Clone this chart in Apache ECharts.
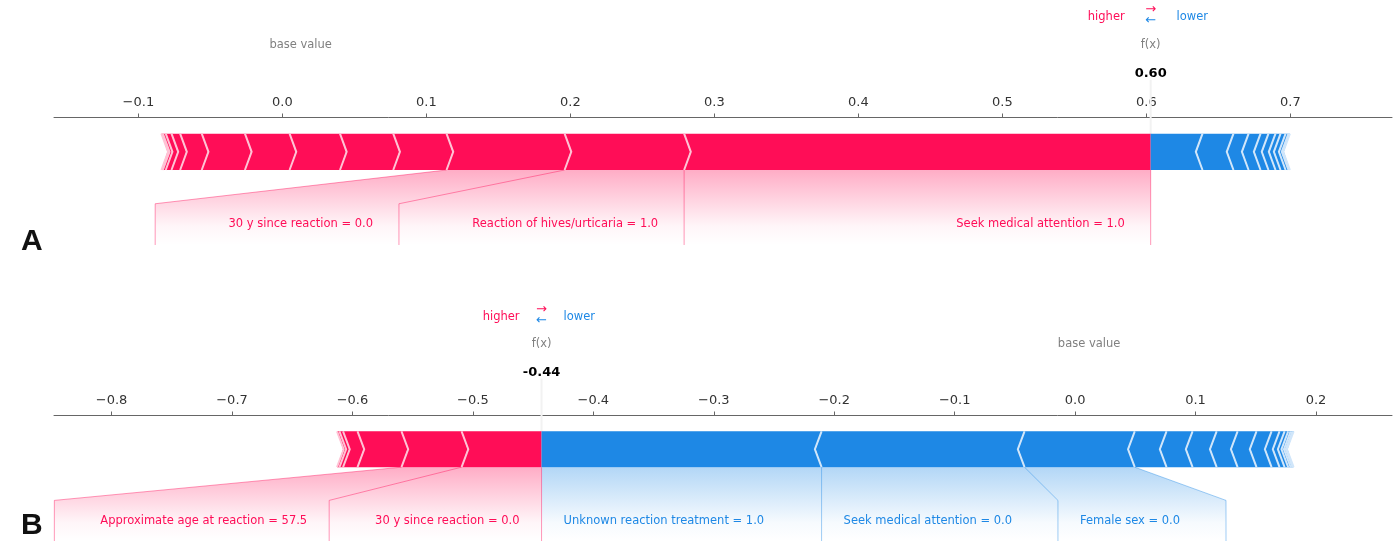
<!DOCTYPE html>
<html>
<head>
<meta charset="utf-8">
<title>force plots</title>
<script src="https://cdn.jsdelivr.net/npm/echarts@6/dist/echarts.min.js"></script>
<style>
  html, body { margin: 0; padding: 0; background: #fff; }
  #main { width: 1400px; height: 541px; }
</style>
</head>
<body>
<div id="main"></div>
<script>
// panel A
const fxA = 0.603
const posEffectsA = [0.324, 0.083, 0.082, 0.037, 0.037, 0.035, 0.031, 0.030, 0.015, 0.006, 0.004, 0.002, 0.001]
const negEffectsA = [0.036, 0.0215, 0.0105, 0.0083, 0.0055, 0.0049, 0.0035, 0.0035, 0.002, 0.001]
const posLabelsA = ['Seek medical attention = 1.0', 'Reaction of hives/urticaria = 1.0', '30 y since reaction = 0.0']
const negLabelsA = []
const ticksA = [-0.1, 0, 0.1, 0.2, 0.3, 0.4, 0.5, 0.6, 0.7]
const rangeA = [-0.1586, 0.7706]

// panel B
const fxB = -0.443
const posEffectsB = [0.0664, 0.0499, 0.0365, 0.012, 0.003, 0.002]
const negEffectsB = [0.2325, 0.1685, 0.0915, 0.0264, 0.0216, 0.020, 0.0174, 0.0157, 0.0125, 0.0066, 0.0042, 0.003, 0.002, 0.0015, 0.001]
const posLabelsB = ['30 y since reaction = 0.0', 'Approximate age at reaction = 57.5']
const negLabelsB = ['Unknown reaction treatment = 1.0', 'Seek medical attention = 0.0', 'Female sex = 0.0']
const ticksB = [-0.8, -0.7, -0.6, -0.5, -0.4, -0.3, -0.2, -0.1, 0, 0.1, 0.2]
const rangeB = [-0.8478, 0.2631]

const RED = '#FF0D57'
const BLUE = '#1E88E5'
const RED_SEP = '#FFC3D5'
const BLUE_SEP = '#D1E6FA'
const FONT = '"DejaVu Sans", sans-serif'

// vertical layout in plot units (bar is 0..BAR_H)
const BAR_H = 0.097
const SLANT_Y = -0.09
const LINE_END = -0.2
const LABEL_Y = -0.145
const HL_Y = 0.408
const NAME_Y = 0.333
const VALUE_Y = 0.256
const OFFSET_FRAC = 0.023

const measureCtx = document.createElement('canvas').getContext('2d')
function textWidth(s, font) {
  measureCtx.font = font
  return measureCtx.measureText(s).width
}
const sum = arr => arr.reduce((a, b) => a + b, 0)

function segments(fx, pos, neg) {
  const out = []
  let cur = fx
  pos.forEach((e, i) => { out.push([cur - e, cur, 1, i === 0 ? 1 : 0]); cur -= e })
  cur = fx
  neg.forEach((e, i) => { out.push([cur, cur + e, -1, i === 0 ? 1 : 0]); cur += e })
  return out
}

function barRenderer(range) {
  const indent = (range[1] - range[0]) / 200
  return function (params, api) {
    const l = api.value(0)
    const r = api.value(1)
    const kind = api.value(2)
    const first = api.value(3)
    const ind = kind * indent
    const m = BAR_H / 2
    const p = (x, y) => api.coord([x, y])
    let pts
    if (first) {
      pts = kind > 0
        ? [p(l, 0), p(r, 0), p(r, BAR_H), p(l, BAR_H), p(l + ind, m)]
        : [p(r, 0), p(l, 0), p(l, BAR_H), p(r, BAR_H), p(r + ind, m)]
    } else {
      pts = [p(l, 0), p(r, 0), p(r + ind * 0.9, m), p(r, BAR_H), p(l, BAR_H), p(l + ind * 0.9, m)]
    }
    const s = kind > 0 ? l : r
    return {
      type: 'group',
      children: [
        { type: 'polygon', z2: 1, shape: { points: pts }, style: { fill: kind > 0 ? RED : BLUE } },
        {
          type: 'polyline', z2: 5,
          shape: { points: [p(s, 0), p(s + ind, m), p(s, BAR_H)] },
          style: { stroke: kind > 0 ? RED_SEP : BLUE_SEP, lineWidth: 2, fill: null }
        }
      ]
    }
  }
}

function txt(pt, text, color, font, align) {
  return {
    type: 'text', x: pt[0], y: pt[1], z2: 8,
    style: {
      text: text, fill: color, font: font,
      align: align, textAlign: align,
      verticalAlign: 'middle', textVerticalAlign: 'middle'
    }
  }
}

function sideLabels(ch, p, ppu, fx, effects, labels, sign, off, pad) {
  if (!labels.length) return
  const color = sign > 0 ? RED : BLUE
  const rgb = sign > 0 ? '255,13,87' : '30,136,229'
  const lineStyle = { stroke: color, opacity: 0.42, lineWidth: 1, fill: null }
  const labelFont = '11.5px ' + FONT
  let start = fx
  let cur = fx
  let boxEnd = fx
  let preVal = fx
  if (sign > 0) {
    ch.push({ type: 'polyline', z2: 3, shape: { points: [p(fx, 0), p(fx, LINE_END)] }, style: lineStyle })
  }
  labels.forEach((label, i) => {
    const val = cur - sign * effects[i]
    const tx = start - sign * off
    const tw = textWidth(label, labelFont) / ppu
    ch.push(txt(p(tx, LABEL_Y), label, color, labelFont, sign > 0 ? 'right' : 'left'))
    const boxEnd0 = tx - sign * (tw + pad)
    if (sign * boxEnd0 > sign * val) {
      ch.push({ type: 'polyline', z2: 3, shape: { points: [p(val, 0), p(val, LINE_END)] }, style: lineStyle })
      start = val
      boxEnd = val
    } else {
      boxEnd = boxEnd0 - sign * off
      ch.push({
        type: 'polyline', z2: 3,
        shape: { points: [p(val, 0), p(boxEnd, SLANT_Y), p(boxEnd, LINE_END)] },
        style: lineStyle
      })
      start = boxEnd
    }
    preVal = val
    cur = val
  })
  ch.push({
    type: 'polygon', z2: 0,
    shape: { points: [p(fx, 0), p(preVal, 0), p(boxEnd, SLANT_Y), p(boxEnd, LINE_END), p(fx, LINE_END)] },
    style: {
      fill: new echarts.graphic.LinearGradient(0, 0, 0, 1, [
        { offset: 0, color: 'rgba(' + rgb + ',0.34)' },
        { offset: 0.75, color: 'rgba(' + rgb + ',0.04)' },
        { offset: 1, color: 'rgba(' + rgb + ',0)' }
      ])
    }
  })
}

function annotRenderer(fx, pos, neg, posLabels, negLabels, padFrac) {
  return function (params, api) {
    const ch = []
    const p = (x, y) => api.coord([x, y])
    const ppu = p(1, 0)[0] - p(0, 0)[0]
    const total = sum(pos) + sum(neg)
    const off = OFFSET_FRAC * total
    const pad = padFrac * total
    const base = fx - sum(pos) + sum(neg)

    sideLabels(ch, p, ppu, fx, pos, posLabels, 1, off, pad)
    sideLabels(ch, p, ppu, fx, neg, negLabels, -1, off, pad)

    // output marker line
    ch.push({ type: 'polyline', z2: 6, shape: { points: [p(fx, 0), p(fx, 0.24)] }, style: { stroke: '#F2F2F2', lineWidth: 2, fill: null } })

    const small = '11.5px ' + FONT
    ch.push(txt(p(fx - off, HL_Y), 'higher', RED, small, 'right'))
    ch.push(txt(p(fx + off, HL_Y), 'lower', BLUE, small, 'left'))
    ch.push(txt(p(fx, HL_Y + 0.02), '\u2192', RED, '13px ' + FONT, 'center'))
    ch.push(txt(p(fx, HL_Y - 0.01), '\u2190', BLUE, '13px ' + FONT, 'center'))
    ch.push(txt(p(fx, NAME_Y), 'f(x)', '#808080', small, 'center'))
    ch.push(txt(p(fx, VALUE_Y), fx.toFixed(2), '#000', 'bold 13px ' + FONT, 'center'))
    ch.push(txt(p(base, NAME_Y), 'base value', '#808080', small, 'center'))
    return { type: 'group', children: ch }
  }
}

const tickFmt = v => (v < -1e-9 ? '\u2212' + Math.abs(v).toFixed(1) : Math.abs(v).toFixed(1))

function xAxisFor(gridIndex, range, ticks) {
  return {
    type: 'value',
    gridIndex: gridIndex,
    position: 'top',
    min: range[0],
    max: range[1],
    axisLine: { show: true, onZero: false, lineStyle: { color: '#666', width: 1 } },
    axisTick: { show: true, length: 4, customValues: ticks, lineStyle: { color: '#666' } },
    axisLabel: {
      customValues: ticks,
      formatter: tickFmt,
      margin: 8,
      color: '#333',
      fontSize: 13,
      fontFamily: FONT
    },
    splitLine: { show: false }
  }
}

const chart = echarts.init(document.getElementById('main'))
chart.setOption({
  animation: false,
  backgroundColor: '#fff',
  grid: [
    { left: 54, right: 8, top: 117.5, height: 127.5 },
    { left: 54, right: 8, top: 415.5, height: 127.5 }
  ],
  xAxis: [xAxisFor(0, rangeA, ticksA), xAxisFor(1, rangeB, ticksB)],
  yAxis: [
    { type: 'value', gridIndex: 0, min: -0.2, max: 0.14, show: false },
    { type: 'value', gridIndex: 1, min: -0.2, max: 0.14, show: false }
  ],
  graphic: [
    { type: 'text', left: 21, top: 227, style: { text: 'A', font: 'bold 30px "Liberation Sans", sans-serif', fill: '#111' } },
    { type: 'text', left: 21, top: 511, style: { text: 'B', font: 'bold 30px "Liberation Sans", sans-serif', fill: '#111' } }
  ],
  series: [
    {
      type: 'custom', name: 'annotA', xAxisIndex: 0, yAxisIndex: 0, z: 1,
      renderItem: annotRenderer(fxA, posEffectsA, negEffectsA, posLabelsA, negLabelsA, 0.042),
      data: [[fxA]], encode: { x: 0 }, silent: true
    },
    {
      type: 'custom', name: 'barsA', xAxisIndex: 0, yAxisIndex: 0, z: 2,
      renderItem: barRenderer(rangeA),
      data: segments(fxA, posEffectsA, negEffectsA), encode: { x: [0, 1] }, silent: true
    },
    {
      type: 'custom', name: 'annotB', xAxisIndex: 1, yAxisIndex: 1, z: 1,
      renderItem: annotRenderer(fxB, posEffectsB, negEffectsB, posLabelsB, negLabelsB, 0.025),
      data: [[fxB]], encode: { x: 0 }, silent: true
    },
    {
      type: 'custom', name: 'barsB', xAxisIndex: 1, yAxisIndex: 1, z: 2,
      renderItem: barRenderer(rangeB),
      data: segments(fxB, posEffectsB, negEffectsB), encode: { x: [0, 1] }, silent: true
    }
  ]
})
</script>
</body>
</html>
